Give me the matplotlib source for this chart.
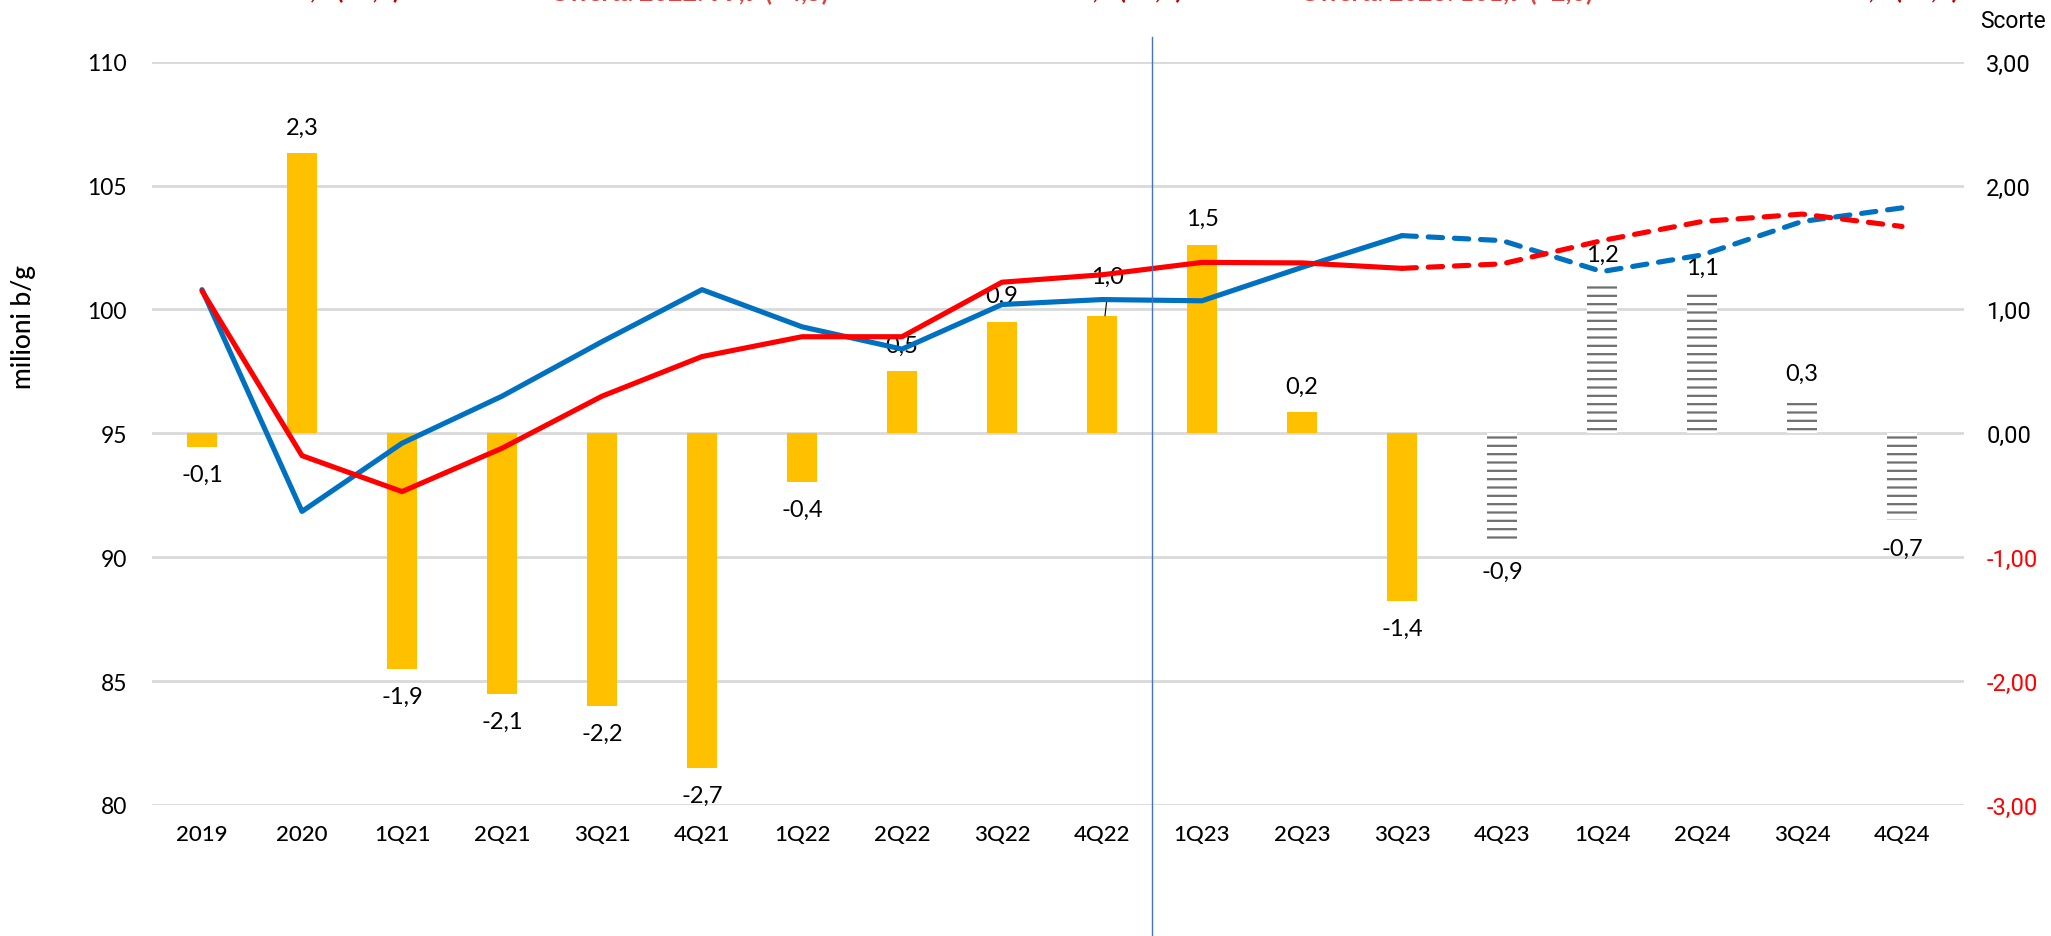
import matplotlib
matplotlib.use("Agg")
import matplotlib.pyplot as plt
import matplotlib.transforms as mtransforms
import numpy as np

# ---------------- data ----------------
categories = ["2019", "2020", "1Q21", "2Q21", "3Q21", "4Q21", "1Q22", "2Q22", "3Q22",
              "4Q22", "1Q23", "2Q23", "3Q23", "4Q23", "1Q24", "2Q24", "3Q24", "4Q24"]
# stock change (Scorte, right axis)
scorte = [-0.11, 2.26, -1.90, -2.10, -2.20, -2.70, -0.39, 0.50, 0.90, 0.95, 1.52, 0.17,
          -1.35, -0.89, 1.23, 1.13, 0.27, -0.70]
scorte_labels = ["-0,1", "2,3", "-1,9", "-2,1", "-2,2", "-2,7", "-0,4", "0,5", "0,9", "1,0",
                 "1,5", "0,2", "-1,4", "-0,9", "1,2", "1,1", "0,3", "-0,7"]
n_actual = 13  # first 13 bars are actual (yellow), rest forecast (hatched)
# demand (blue) and supply (red), milioni b/g (left axis)
domanda = [100.8, 91.85, 94.6, 96.5, 98.7, 100.8, 99.3, 98.4, 100.2, 100.4, 100.35, 101.7,
           102.98, 102.78, 101.53, 102.2, 103.55, 104.1]
offerta = [100.75, 94.1, 92.65, 94.4, 96.5, 98.1, 98.9, 98.9, 101.1, 101.4, 101.9, 101.88,
           101.66, 101.84, 102.78, 103.55, 103.85, 103.35]
split = 12  # index where lines become dashed (3Q23)

left_ticks = [80, 85, 90, 95, 100, 105, 110]
right_ticks = [-3, -2, -1, 0, 1, 2, 3]
right_ticklabels = ["-3,00", "-2,00", "-1,00", "0,00", "1,00", "2,00", "3,00"]

top_texts = ["Domanda 2022: 99,4 (+2,2)", "Offerta 2022: 99,9 (+4,5)",
             "Domanda 2023: 101,7 (+2,3)", "Offerta 2023: 101,9 (+2,0)",
             "Domanda 2024: 103,2 (+1,5)"]

# ---------------- style ----------------
W, H = 2051, 937
DPI = 100
fig = plt.figure(figsize=(W / DPI, H / DPI), dpi=DPI)
plt.rcParams['hatch.linewidth'] = 1.6

FONT = ['Lato', 'DejaVu Sans']
FONT_R = ['Roboto', 'DejaVu Sans']
BLUE = '#0070C0'
RED = '#FF0000'
YELLOW = '#FFC000'
GRID = '#D9D9D9'

left = 152 / W
right = 1964 / W
bottom = 1 - 806 / H
top = 1 - 62.7 / H
ax2 = fig.add_axes([left, bottom, right - left, top - bottom])  # bars / right axis
ax = fig.add_axes([left, bottom, right - left, top - bottom], sharex=ax2)
ax.set_zorder(ax2.get_zorder() + 1)
ax.patch.set_visible(False)

x = np.arange(len(categories))
xlim = (-0.5, 17.62)

# ---- bars on right scale ----
ax2.set_xlim(*xlim)
ax2.set_ylim(-3, 3)
ax2.yaxis.tick_right()
ax2.set_yticks(right_ticks)
ax2.set_yticklabels(right_ticklabels)
for lbl, v in zip(ax2.get_yticklabels(), right_ticks):
    lbl.set_color(RED if v < 0 else 'black')
    lbl.set_fontfamily(FONT_R)
    lbl.set_fontsize(17)
    lbl.set_horizontalalignment('left')
ax2.tick_params(axis='y', length=0, pad=16)
ax2.grid(axis='y', color=GRID, linewidth=2.0)
ax2.set_axisbelow(True)
for s in ax2.spines.values():
    s.set_visible(False)

bw = 0.3
ax2.bar(x[:n_actual], scorte[:n_actual], width=bw, color=YELLOW, linewidth=0, zorder=2)
ax2.bar(x[n_actual:], scorte[n_actual:], width=bw, facecolor='white', edgecolor='#6F6F6F',
        hatch='--', linewidth=0, zorder=2)

for i, (v, t) in enumerate(zip(scorte, scorte_labels)):
    if i == 9:
        # label with short leader line
        ax2.annotate(t, xy=(x[i], v), xytext=(4, 28), textcoords='offset points',
                     ha='center', va='center', fontsize=17, fontfamily=FONT, zorder=6)
        ax2.plot([x[i] + 0.03, x[i] + 0.05], [v, v + 0.14], color='black', lw=0.8,
                 zorder=6)
        continue
    off = 19 if v >= 0 else -20
    ax2.annotate(t, xy=(x[i], v), xytext=(0, off), textcoords='offset points',
                 ha='center', va='center', fontsize=17, fontfamily=FONT, zorder=6)

# ---- lines on left scale ----
ax.set_ylim(80, 110)
ax.set_yticks(left_ticks)
ax.set_yticklabels([str(v) for v in left_ticks], fontfamily=FONT, fontsize=16.5)
ax.tick_params(axis='y', length=0, pad=18)
ax.set_xticks(x)
ax.set_xticklabels(categories, fontfamily=FONT, fontsize=16, fontweight='medium')
ax.tick_params(axis='x', length=0, pad=14)
ax2.tick_params(axis='x', length=0, labelbottom=False)
for s in ax.spines.values():
    s.set_visible(False)

lw = 3.7
for series, col in ((domanda, BLUE), (offerta, RED)):
    ax.plot(x[:split + 1], series[:split + 1], color=col, lw=lw, solid_joinstyle='round',
            solid_capstyle='round', zorder=4)
    ax.plot(x[split:], series[split:], color=col, lw=lw, dashes=(2.8, 2.3),
            dash_capstyle='round', dash_joinstyle='round', zorder=4)

ax.set_xlim(*xlim)

# vertical divider between 4Q22 and 1Q23
btr = mtransforms.blended_transform_factory(ax.transData, fig.transFigure)
ax.plot([9.5, 9.5], [0, 1 - 38 / H], transform=btr, color='#4472C4', lw=1.0,
        clip_on=False, zorder=5)

# axis titles
fig.text(23 / W, 1 - 327 / H, "milioni b/g", rotation=90, ha='center', va='center',
         fontsize=19, fontfamily=FONT, fontweight='medium')
fig.text(2013 / W, 1 - 22 / H, "Scorte", ha='center', va='center', fontsize=16.5,
         fontfamily=FONT_R)

# red header texts, cut off at the top edge as in the reference
hdr = [(400, 'right', 1 + 1 / H, '#C00000'), (550, 'left', 1 - 1 / H, '#E04040'),
       (1182, 'right', 1 + 1 / H, '#C00000'), (1300, 'left', 1 - 1 / H, '#E04040'),
       (1958, 'right', 1 + 1 / H, '#C00000')]
for (xp, ha, yp, col), t in zip(hdr, top_texts):
    fig.text(xp / W, yp, t, ha=ha, va='baseline', fontsize=18, fontweight='bold',
             color=col, fontfamily=FONT)

fig.savefig("out.png", dpi=DPI, facecolor='white')
